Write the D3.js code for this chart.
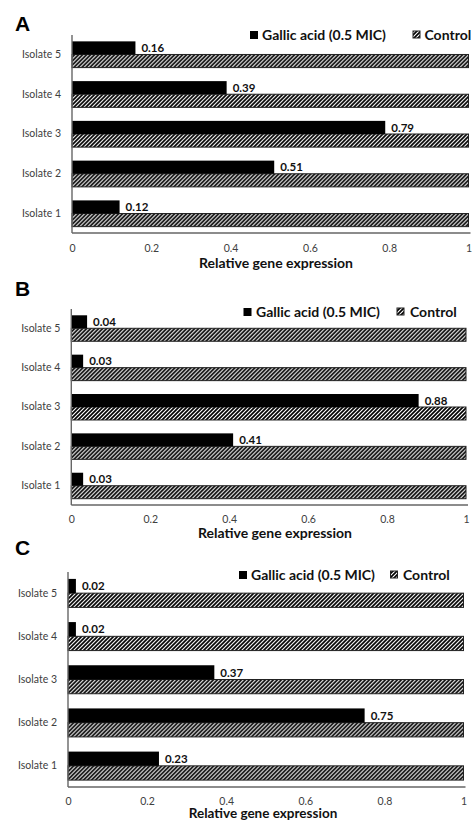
<!DOCTYPE html>
<html><head><meta charset="utf-8">
<script src="https://cdn.jsdelivr.net/npm/d3@7/dist/d3.min.js"></script>
<style>
body{margin:0;background:#fff;}
svg{display:block;}
text{font-family:Lato,"Open Sans",sans-serif;}
</style></head>
<body>
<svg id="chart" width="472" height="823"></svg>
<script>
const isolates = ["Isolate 1","Isolate 2","Isolate 3","Isolate 4","Isolate 5"];
const seriesNames = ["Gallic acid (0.5 MIC)","Control"];
const panelLabels = ["A","B","C"];
const gallicA = [0.12, 0.51, 0.79, 0.39, 0.16];
const gallicB = [0.03, 0.41, 0.88, 0.03, 0.04];
const gallicC = [0.23, 0.75, 0.37, 0.02, 0.02];
const controlA = [1, 1, 1, 1, 1];
const controlB = [1, 1, 1, 1, 1];
const controlC = [1, 1, 1, 1, 1];
const xTicks = [0, 0.2, 0.4, 0.6, 0.8, 1];
const xTickLabels = ["0","0.2","0.4","0.6","0.8","1"];
const xTitle = "Relative gene expression";

const svg = d3.select("#chart");
const defs = svg.append("defs");
const pat = defs.append("pattern").attr("id","hatch").attr("patternUnits","userSpaceOnUse")
  .attr("width",4).attr("height",4);
pat.append("rect").attr("width",4).attr("height",4).attr("fill","#fff");
pat.append("path").attr("d","M-1,1 l2,-2 M0,4 l4,-4 M3,5 l2,-2")
  .attr("stroke","#000").attr("stroke-width",1.7);

const layouts = [
  {x0:72, x1:468.5, top:35, bottom:233, legY:34, sq1:250, tx1:262, sq2:413, tx2:424.5, tickY:248, titleX:276, titleY:268, titleSize:14, labelY:31},
  {x0:71.3, x1:466, top:309, bottom:505, legY:311, sq1:243.5, tx1:256, sq2:397, tx2:410, tickY:519.5, titleX:275, titleY:537.5, titleSize:14, labelY:296},
  {x0:68, x1:463.5, top:572, bottom:787, legY:574, sq1:239, tx1:251, sq2:390.5, tx2:403, tickY:801.5, titleX:263, titleY:818, titleSize:13.5, labelY:555}
];
const gallicSets = [gallicA, gallicB, gallicC];
const controlSets = [controlA, controlB, controlC];

layouts.forEach((L, pi) => {
  const g = svg.append("g");
  const data = isolates.map((iso, i) => ({iso, gallic: gallicSets[pi][i], control: controlSets[pi][i]}));
  const x = d3.scaleLinear().domain([0,1]).range([L.x0, L.x1]);
  const y = d3.scaleBand().domain(isolates.slice().reverse()).range([L.top, L.bottom])
    .paddingInner(0.34).paddingOuter(0.16);
  const sub = d3.scaleBand().domain(["gallic","control"]).range([0, y.bandwidth()]);

  g.append("text").attr("x",15).attr("y",L.labelY).text(panelLabels[pi])
    .style("font-family","'Liberation Sans',Arial,sans-serif").style("font-weight","bold").style("font-size","21px");

  const rows = g.selectAll("g.row").data(data).join("g").attr("class","row")
    .attr("transform", d => `translate(0,${y(d.iso)})`);
  rows.append("rect").attr("x", x(0)).attr("y", sub("control"))
    .attr("width", d => x(d.control) - x(0)).attr("height", sub.bandwidth())
    .attr("fill","url(#hatch)").attr("stroke","#222").attr("stroke-width",1);
  rows.append("rect").attr("x", x(0)).attr("y", sub("gallic"))
    .attr("width", d => x(d.gallic) - x(0)).attr("height", sub.bandwidth())
    .attr("fill","#000");
  rows.append("text").attr("x", d => x(d.gallic) + 6).attr("y", sub("gallic") + sub.bandwidth()/2)
    .attr("dy","0.36em").text(d => d.gallic.toFixed(2))
    .style("font-weight","bold").style("font-size","11.5px").attr("fill","#111");

  const xAxis = d3.axisBottom(x).tickValues(xTicks).tickFormat((d,i) => xTickLabels[i]).tickSize(0);
  const ax = g.append("g").attr("transform",`translate(0,${L.bottom})`).call(xAxis);
  ax.select(".domain").attr("stroke","#666").attr("stroke-width",1.4).attr("d",`M${L.x0},0H${L.x1+2}`);
  ax.selectAll(".tick text").attr("y", L.tickY - L.bottom).attr("dy","0.35em")
    .style("font-family","Lato,sans-serif").style("font-size","10.5px").attr("fill","#404040");

  const yAxis = d3.axisLeft(y).tickSize(0).tickPadding(11);
  const ay = g.append("g").attr("transform",`translate(${L.x0},0)`).call(yAxis);
  ay.select(".domain").attr("stroke","#666").attr("stroke-width",1.4).attr("d",`M0,${L.top}V${L.bottom}`);
  ay.selectAll(".tick text").style("font-family","Lato,sans-serif").style("font-size","10.5px").attr("fill","#404040");

  g.append("text").attr("x",L.titleX).attr("y",L.titleY).attr("text-anchor","middle")
    .text(xTitle).style("font-weight","bold").style("font-size",L.titleSize+"px").attr("fill","#111");

  g.append("rect").attr("x",L.sq1).attr("y",L.legY-3).attr("width",8).attr("height",8).attr("fill","#000");
  g.append("text").attr("x",L.tx1).attr("y",L.legY+1).attr("dy","0.35em").text(seriesNames[0])
    .style("font-weight","bold").style("font-size","14px").attr("fill","#111");
  g.append("rect").attr("x",L.sq2).attr("y",L.legY-3).attr("width",7).attr("height",7)
    .attr("fill","url(#hatch)").attr("stroke","#222").attr("stroke-width",1);
  g.append("text").attr("x",L.tx2).attr("y",L.legY+1).attr("dy","0.35em").text(seriesNames[1])
    .style("font-weight","bold").style("font-size","14px").attr("fill","#111");
});
</script>
</body></html>
